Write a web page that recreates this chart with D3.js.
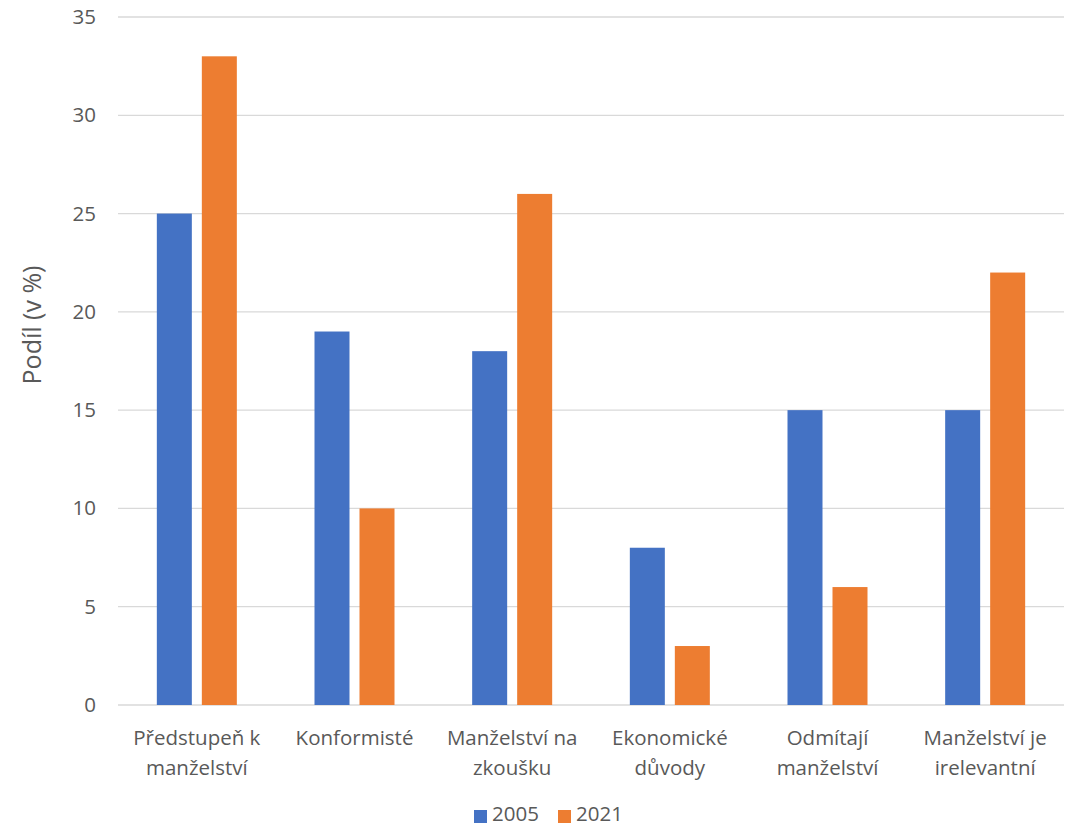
<!DOCTYPE html>
<html><head><meta charset="utf-8">
<script src="https://cdn.jsdelivr.net/npm/d3@7"></script>
<style>body{margin:0;background:#fff}svg{display:block}text{font-family:"Open Sans","Noto Sans",sans-serif;fill:#595959}</style>
</head><body><svg id="c" width="1071" height="827"></svg>
<script>
const categories = [["Předstupeň k","manželství"],["Konformisté"],["Manželství na","zkoušku"],["Ekonomické","důvody"],["Odmítají","manželství"],["Manželství je","irelevantní"]];
const seriesNames = ["2005","2021"];
const values2005 = [25,19,18,8,15,15];
const values2021 = [33,10,26,3,6,22];
const yTicks = [0,5,10,15,20,25,30,35];
const colors = ["#4472C4","#ED7D31"];
const yTitle = "Podíl (v %)";

const svg = d3.select("#c");
const L=118,R=1064,T=17,B=705;
const FS=20.5;
const keys = categories.map((c,i)=>i);
const x0 = d3.scaleBand().domain(keys).range([L,R]).padding(0);
const cw = 80;
const x1 = d3.scaleBand().domain(seriesNames).range([0,cw]).paddingInner(2-80/45).paddingOuter(0);
const y = d3.scaleLinear().domain([0,35]).range([B,T]);

const grid = svg.append("g");
grid.selectAll("line").data(yTicks).join("line")
  .attr("x1",L).attr("x2",R).attr("y1",d=>y(d)).attr("y2",d=>y(d))
  .attr("stroke","#d9d9d9").attr("stroke-width",1.3);

const yAxis = svg.append("g").attr("transform",`translate(${L},0)`)
  .call(d3.axisLeft(y).tickValues(yTicks).tickSize(0).tickPadding(22));
yAxis.select(".domain").remove();
yAxis.selectAll("text").attr("font-size",FS).style("fill","#595959").attr("font-family",'"Open Sans",sans-serif');

const data = [values2005, values2021];
const g = svg.append("g");
keys.forEach(i=>{
  const off = x0(i) + (x0.bandwidth()-cw)/2;
  seriesNames.forEach((s,j)=>{
    g.append("rect").attr("x",off+x1(s)).attr("width",x1.bandwidth())
      .attr("y",y(data[j][i])).attr("height",y(0)-y(data[j][i])).attr("fill",colors[j]);
  });
});

const xl = svg.append("g");
keys.forEach(i=>{
  const t = xl.append("text").attr("text-anchor","middle").attr("font-size",FS)
    .attr("x",x0(i)+x0.bandwidth()/2).attr("y",745);
  categories[i].forEach((line,k)=>t.append("tspan").attr("x",x0(i)+x0.bandwidth()/2).attr("dy",k?30:0).text(line));
});

svg.append("text").attr("transform","translate(41,325) rotate(-90)").attr("text-anchor","middle")
  .attr("font-size",25).text(yTitle);

const lg = svg.append("g");
const lx=[474,558];
seriesNames.forEach((s,j)=>{
  lg.append("rect").attr("x",lx[j]).attr("y",810).attr("width",13).attr("height",13).attr("fill",colors[j]);
  lg.append("text").attr("x",lx[j]+18).attr("y",821).attr("font-size",FS).text(s);
});
</script></body></html>
